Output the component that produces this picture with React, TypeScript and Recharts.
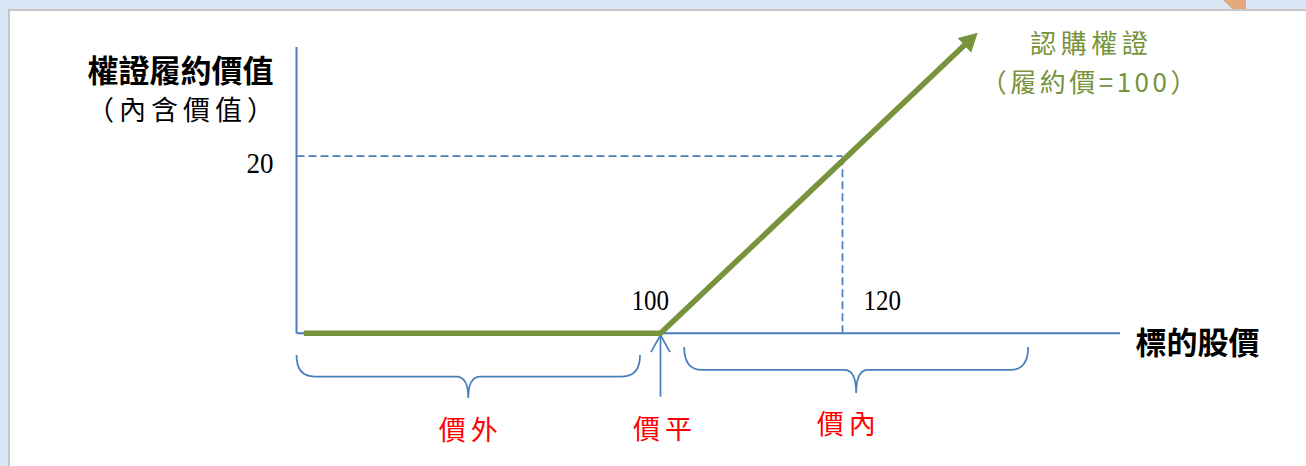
import React from 'react';
import { LineChart, Line, XAxis, YAxis, ReferenceLine, ReferenceArea, ReferenceDot } from 'recharts';

// payoff of a call warrant, strike 100
const stockPrice = [60.8, 100, 133.5];
const warrantValue = [0, 0, 32.6];
const valueTicks = [20];
const priceTicks = [100, 120];
const strike = 100;
const examplePrice = 120;
const exampleValue = 20;
const zoneNames = ['價外', '價平', '價內'];
const outOfMoney = [60, 97.75];
const inTheMoney = [102.6, 140.4];
const seriesName = ['認購權證', '（履約價=100）'];
const yTitle = ['權證履約價值', '（內含價值）'];
const xTitle = '標的股價';

const data = stockPrice.map((price, i) => ({ price, value: warrantValue[i] }));

const BLUE = '#4a7ebb';
const GREEN = '#77933c';
const RED = '#ff0000';
const CJK = '"Noto Sans CJK TC", "Noto Sans CJK SC", sans-serif';
const SERIF = '"Liberation Serif", "DejaVu Serif", serif';

const Brace = (props: any) => {
  const { x, y, width, height, label, labelDx = 0 } = props;
  const mid = y + height / 2;
  const cx = x + width / 2;
  const r = 18;
  const rc = 12;
  const d = `M${x},${y} Q${x},${mid} ${x + r},${mid} L${cx - rc},${mid} Q${cx},${mid} ${cx},${y + height} ` +
    `Q${cx},${mid} ${cx + rc},${mid} L${x + width - r},${mid} Q${x + width},${mid} ${x + width},${y}`;
  return (
    <g>
      <path d={d} fill="none" stroke={BLUE} strokeWidth={1.75} />
      <text x={cx + labelDx + 2.5} y={y + height + 30} textAnchor="middle" dominantBaseline="central"
        fill={RED} fontFamily={CJK} fontSize={27} letterSpacing={5}>{label}</text>
    </g>
  );
};

const UpArrow = (props: any) => {
  const { x1, y1, y2 } = props;
  const top = Math.min(y1, y2);
  const bottom = Math.max(y1, y2);
  return (
    <g>
      <line x1={x1} y1={top} x2={x1} y2={bottom} stroke={BLUE} strokeWidth={1.75} />
      <polyline points={`${x1 - 9.5},${top + 17} ${x1},${top} ${x1 + 9.5},${top + 17}`}
        fill="none" stroke={BLUE} strokeWidth={1.75} />
      <text x={x1 + 4.5} y={bottom + 31} textAnchor="middle" dominantBaseline="central"
        fill={RED} fontFamily={CJK} fontSize={27} letterSpacing={5}>{zoneNames[1]}</text>
    </g>
  );
};

const ValueTick = ({ x, payload }: any) => (
  <text x={x - 23} y={payload.coordinate + 6} textAnchor="end" dominantBaseline="central"
    fontFamily={SERIF} fontSize={30} textLength={27} lengthAdjust="spacingAndGlyphs" fill="#000">
    {payload.value}
  </text>
);

const PriceTick = ({ payload }: any) => {
  const left = payload.value === strike;
  return (
    <text x={left ? payload.coordinate + 8.5 : payload.coordinate + 21} y={300}
      textAnchor={left ? 'end' : 'start'} dominantBaseline="central"
      fontFamily={SERIF} fontSize={29} textLength={37.5} lengthAdjust="spacingAndGlyphs" fill="#000">
      {payload.value}
    </text>
  );
};

const YTitle = ({ viewBox }: any) => {
  const cx = viewBox.x + viewBox.width - 116;
  return (
    <g>
      <text x={cx} y={68.5} textAnchor="middle" dominantBaseline="central" fontFamily={CJK}
        fontWeight="bold" fontSize={31} fill="#000">{yTitle[0]}</text>
      <text x={cx + 2.5} y={108.5} textAnchor="middle" dominantBaseline="central" fontFamily={CJK}
        fontSize={27} letterSpacing={5} fill="#000">{yTitle[1]}</text>
    </g>
  );
};

const XTitle = ({ viewBox }: any) => (
  <text x={viewBox.x + viewBox.width + 73} y={viewBox.y + 7} textAnchor="middle" dominantBaseline="central"
    fontFamily={CJK} fontWeight="bold" fontSize={31} fill="#000">{xTitle}</text>
);

const SeriesName = ({ cx, cy }: any) => (
  <g>
    <text x={cx + 126} y={cy - 3} textAnchor="middle" dominantBaseline="central" fontFamily={CJK}
      fontSize={26} letterSpacing={4.5} fill={GREEN}>{seriesName[0]}</text>
    <text x={cx + 125} y={cy + 36} textAnchor="middle" dominantBaseline="central" fontFamily={CJK}
      fontSize={26} letterSpacing={3.5} fill={GREEN}>{seriesName[1]}</text>
  </g>
);

export default function App() {
  const last = stockPrice.length - 1;
  return (
    <div style={{ position: 'fixed', left: 0, top: 0, width: 1306, height: 466, background: '#dae7f7', overflow: 'hidden' }}>
      <div style={{
        position: 'absolute', left: 7.5, top: 9, right: 0, bottom: 0, background: '#fff',
        borderTop: '2.5px solid #c6c6c6', borderLeft: '2.5px solid #c6c6c6', boxSizing: 'border-box',
      }} />
      <div style={{
        position: 'absolute', left: 1223, top: 0, width: 23, height: 9, background: '#e3a87c',
        clipPath: 'polygon(0 0, 100% 0, 100% 100%, 40% 100%)',
      }} />
      <div style={{ position: 'absolute', left: 0, top: 0 }}>
        <LineChart width={1306} height={466} data={data}
          margin={{ top: 14.2, right: 181.4, bottom: 102.7, left: 236.5 }}>
          <defs>
            <marker id="warrantArrow" markerUnits="userSpaceOnUse" markerWidth={20} markerHeight={22}
              refX={1.5} refY={10} orient="auto">
              <path d="M0,0 L18.5,10 L0,20 z" fill={GREEN} />
            </marker>
          </defs>
          <XAxis dataKey="price" type="number" domain={[60, 151]} ticks={priceTicks} height={30}
            axisLine={false} tickLine={false} tickSize={0} tickMargin={0} tick={<PriceTick />}
            label={XTitle} />
          <YAxis type="number" domain={[0, 36]} ticks={valueTicks} width={60}
            axisLine={false} tickLine={false} tickSize={0} tickMargin={0} tick={<ValueTick />}
            label={YTitle} />
          <ReferenceLine segment={[{ x: 60, y: exampleValue }, { x: examplePrice, y: exampleValue }]}
            stroke={BLUE} strokeWidth={1.75} strokeDasharray="8 4" ifOverflow="visible" />
          <ReferenceLine segment={[{ x: examplePrice, y: 0 }, { x: examplePrice, y: exampleValue }]}
            stroke={BLUE} strokeWidth={1.75} strokeDasharray="8 4" ifOverflow="visible" />
          <ReferenceLine segment={[{ x: 60, y: 0 }, { x: 60, y: 32.3 }]}
            stroke={BLUE} strokeWidth={2} ifOverflow="visible" />
          <ReferenceLine segment={[{ x: 60, y: 0 }, { x: 150.5, y: 0 }]}
            stroke={BLUE} strokeWidth={2} ifOverflow="visible" />
          <ReferenceArea x1={outOfMoney[0]} x2={outOfMoney[1]} y1={-2.45} y2={-7.3} ifOverflow="visible"
            shape={(p: any) => <Brace {...p} label={zoneNames[0]} />} />
          <ReferenceArea x1={inTheMoney[0]} x2={inTheMoney[1]} y1={-1.55} y2={-6.73} ifOverflow="visible"
            shape={(p: any) => <Brace {...p} label={zoneNames[2]} labelDx={-10} />} />
          <ReferenceLine segment={[{ x: strike, y: -0.2 }, { x: strike, y: -7.15 }]} ifOverflow="visible"
            shape={(p: any) => <UpArrow {...p} />} />
          <Line dataKey="value" type="linear" stroke={GREEN} strokeWidth={5.5} dot={false} activeDot={false}
            isAnimationActive={false} markerEnd="url(#warrantArrow)" strokeLinejoin="miter" />
          <ReferenceDot x={stockPrice[last]} y={warrantValue[last]} r={0} ifOverflow="visible"
            shape={(p: any) => <SeriesName {...p} />} />
        </LineChart>
      </div>
    </div>
  );
}
